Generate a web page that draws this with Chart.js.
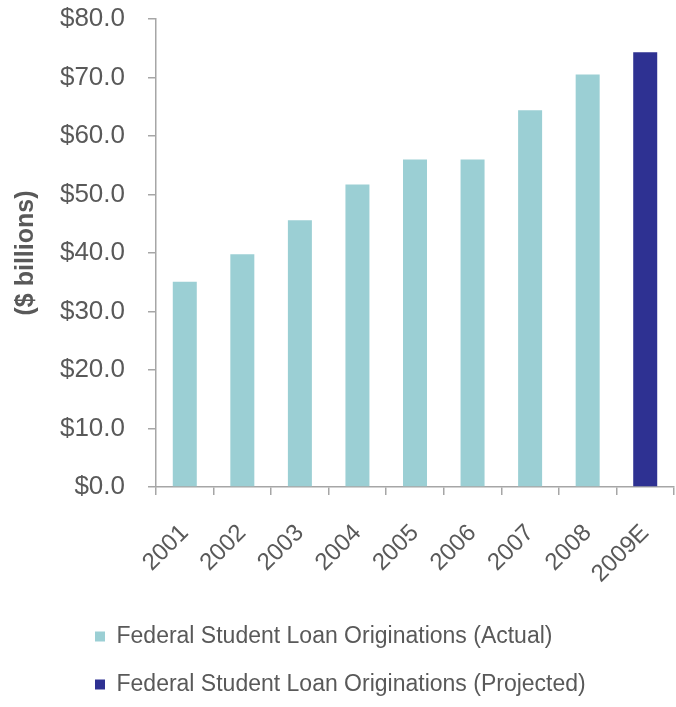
<!DOCTYPE html>
<html>
<head>
<meta charset="utf-8">
<script src="https://cdn.jsdelivr.net/npm/chart.js@4/dist/chart.umd.min.js"></script>
<style>
  html, body { margin: 0; padding: 0; background: #ffffff; }
  #wrap { width: 676px; height: 707px; position: relative; }
</style>
</head>
<body>
<div id="wrap"><canvas id="c" width="676" height="707"></canvas></div>
<script>
const categories = ['2001', '2002', '2003', '2004', '2005', '2006', '2007', '2008', '2009E'];
const actualValues = [35.1, 39.8, 45.6, 51.7, 56.0, 56.0, 64.4, 70.5, null];
const projectedValues = [null, null, null, null, null, null, null, null, 74.3];
const yTickValues = [0, 10, 20, 30, 40, 50, 60, 70, 80];
const seriesNames = ['Federal Student Loan Originations (Actual)', 'Federal Student Loan Originations (Projected)'];

const FONT = "'Liberation Sans', Arial, Helvetica, sans-serif";
const TEXT = '#595959';
const AXIS = '#a6a6a6';

const legendShift = {
  id: 'legendShift',
  afterLayout(chart) {
    const lg = chart.legend;
    if (!lg) return;
    const dx = 70 - lg.left;
    const dy = 600 - lg.top;
    lg.left += dx; lg.right += dx;
    lg.top += dy; lg.bottom += dy;
  }
};

new Chart(document.getElementById('c'), {
  type: 'bar',
  data: {
    labels: categories,
    datasets: [
      { label: seriesNames[0], data: actualValues, backgroundColor: '#9bcfd4', borderWidth: 0 },
      { label: seriesNames[1], data: projectedValues, backgroundColor: '#2e3192', borderWidth: 0 }
    ]
  },
  options: {
    responsive: false,
    animation: false,
    devicePixelRatio: 1,
    datasets: { bar: { barPercentage: 0.417, categoryPercentage: 1.0, grouped: false } },
    layout: { padding: { left: 0, right: 2, top: 19, bottom: 0 } },
    plugins: {
      tooltip: { enabled: false },
      legend: {
        position: 'bottom',
        align: 'start',
        labels: {
          boxWidth: 10,
          boxHeight: 10,
          padding: 25,
          color: TEXT,
          font: { family: FONT, size: 23 }
        }
      }
    },
    scales: {
      x: {
        offset: true,
        grid: { display: true, drawOnChartArea: false, offset: true, tickLength: 8, color: AXIS, lineWidth: 1.5 },
        border: { display: true, color: AXIS, width: 1.5 },
        ticks: { color: TEXT, font: { family: FONT, size: 24 }, minRotation: 45, maxRotation: 45, padding: 24, autoSkip: false },
        afterFit(scale) {
          scale.height = 114;
          scale.paddingLeft = 0;
          scale.paddingRight = 0;
        }
      },
      y: {
        min: 0,
        max: 80,
        afterBuildTicks(scale) { scale.ticks = yTickValues.map(v => ({ value: v })); },
        grid: { display: true, drawOnChartArea: false, tickLength: 8, color: AXIS, lineWidth: 1.5 },
        border: { display: true, color: AXIS, width: 1.5 },
        ticks: {
          color: TEXT,
          font: { family: FONT, size: 26 },
          padding: 23,
          callback: (v) => '$' + Number(v).toFixed(1)
        },
        title: {
          display: true,
          text: '($ billions)',
          color: TEXT,
          font: { family: FONT, size: 25, weight: 'bold' },
          padding: { top: 11, bottom: 0 }
        },
        afterFit(scale) {
          scale.width = 156;
          scale.paddingTop = 0;
          scale.paddingBottom = 0;
        }
      }
    }
  },
  plugins: [legendShift]
});
</script>
</body>
</html>
